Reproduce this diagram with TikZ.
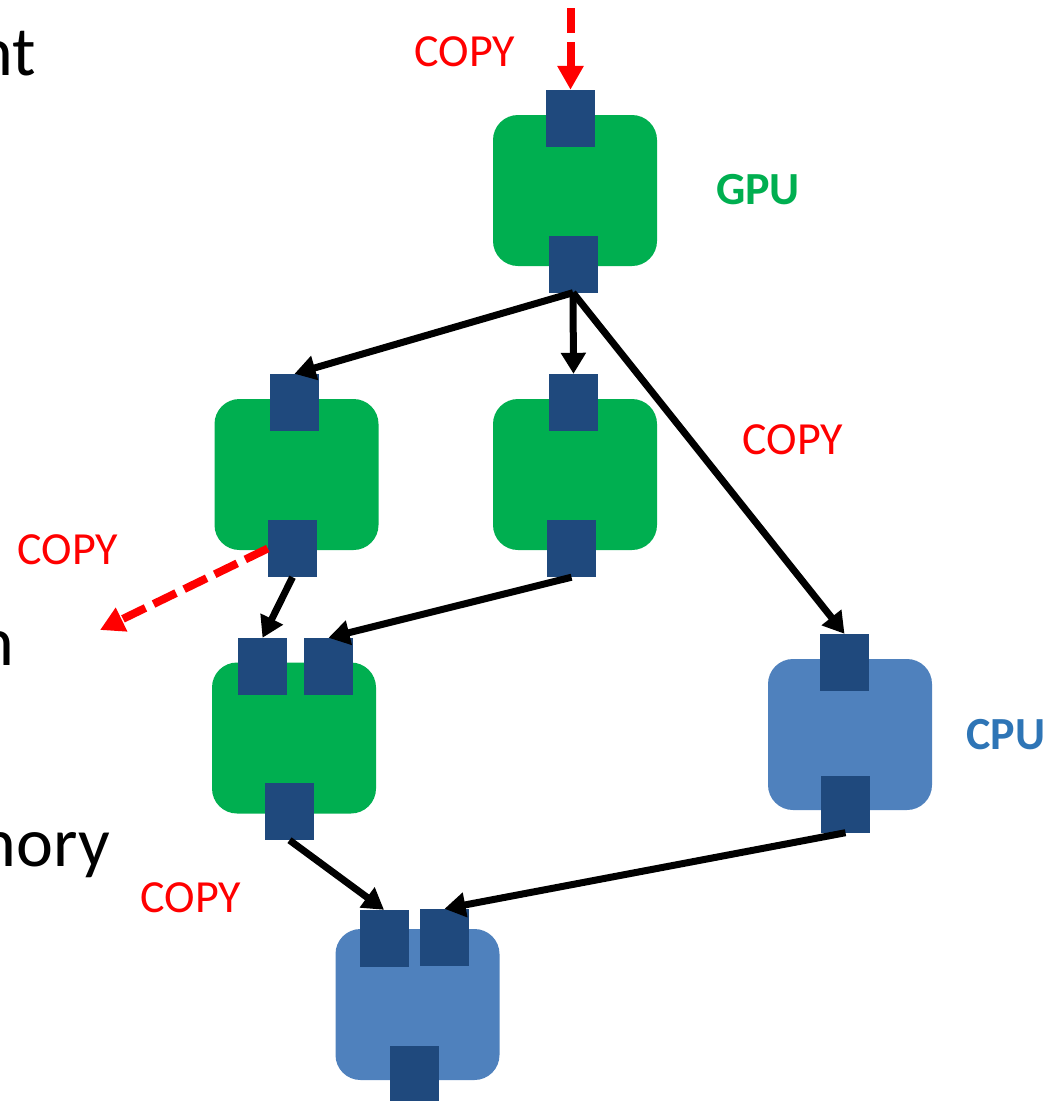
\documentclass[tikz,border=0pt]{standalone}
\usepackage{fontspec}
\setmainfont{Carlito}
\usetikzlibrary{arrows.meta}
\definecolor{gpugreen}{HTML}{00AF50}
\definecolor{cpublue}{HTML}{4F81BD}
\definecolor{portblue}{HTML}{1F497D}
\definecolor{cputext}{HTML}{2E75B6}
\definecolor{copyred}{HTML}{FF0000}
\tikzset{
  gbox/.style={fill=gpugreen, rounded corners=25pt, minimum width=164pt, minimum height=151pt, inner sep=0pt},
  cbox/.style={fill=cpublue, rounded corners=25pt, minimum width=164pt, minimum height=151pt, inner sep=0pt},
  port/.style={fill=portblue, minimum width=49pt, minimum height=57pt, inner sep=0pt},
  flow/.style={line width=7pt, -{Triangle[length=21pt,width=24pt]}},
  copyflow/.style={line width=8pt, copyred, dash pattern=on 25pt off 9pt, -{Triangle[length=24pt,width=25pt]}},
  copylbl/.style={text=copyred, font=\fontsize{46}{52}\selectfont},
  bigtxt/.style={font=\fontsize{70}{76}\selectfont, anchor=base east, inner sep=0pt},
}
\begin{document}
\begin{tikzpicture}[x=1pt,y=-1pt]
\useasboundingbox (0,0) rectangle (1060,1101);
% boxes
\node[gbox] (A) at (575,190.5) {};
\node[gbox] (B) at (296.5,474.5) {};
\node[gbox] (C) at (575,474.5) {};
\node[gbox] (D) at (294,738) {};
\node[cbox] (E) at (850,734.5) {};
\node[cbox] (F) at (417.5,1004.5) {};
% ports
\node[port] (At) at (570.5,118.5) {};
\node[port] (Ab) at (573,264) {};
\node[port] (Bt) at (294.5,402.5) {};
\node[port] (Bb) at (292.5,548.5) {};
\node[port] (Ct) at (573.5,402.5) {};
\node[port] (Cb) at (571.5,548.5) {};
\node[port] (Dtl) at (262.5,666.5) {};
\node[port] (Dtr) at (328.5,666.5) {};
\node[port] (Db) at (289.5,811.5) {};
\node[port] (Et) at (844.5,662.5) {};
\node[port] (Eb) at (845.5,804) {};
\node[port] (Ftl) at (384,938.5) {};
\node[port] (Ftr) at (444.5,937.5) {};
\node[port] (Fb) at (414,1074.5) {};
% labels
\node[copylbl] (l1) at (465,52) {COPY};
\node[copylbl] (l2) at (793,440) {COPY};
\node[copylbl] (l3) at (68,550) {COPY};
\node[copylbl] (l4) at (191,898) {COPY};
\node[text=gpugreen, font=\bfseries\fontsize{46}{52}\selectfont] (gpu) at (758,190) {GPU};
\node[text=cputext, font=\bfseries\fontsize{46}{52}\selectfont] (cpu) at (1006,735) {CPU};
% cut-off text at the left edge
\node[bigtxt] (t1) at (36,75) {nt};
\node[bigtxt] (t2) at (14,665) {n};
\node[bigtxt] (t3) at (110,866) {nory};
% connectors
\coordinate (src) at (570.5,8);
\coordinate (dst) at (100,630);
\draw[copyflow] (src) -- (At.north);
\draw[copyflow] (Bb.west) -- (dst);
\draw[flow] (Ab.south) -- (Bt.north);
\draw[flow] (Ab.south) -- (Ct.north);
\draw[flow] (Ab.south) -- (Et.north);
\draw[flow] (Bb.south) -- (Dtl.north);
\draw[flow] (Cb.south) -- (Dtr.north);
\draw[flow] (Db.south) -- (Ftl.north);
\draw[flow] (Eb.south) -- (Ftr.north);
\end{tikzpicture}
\end{document}
